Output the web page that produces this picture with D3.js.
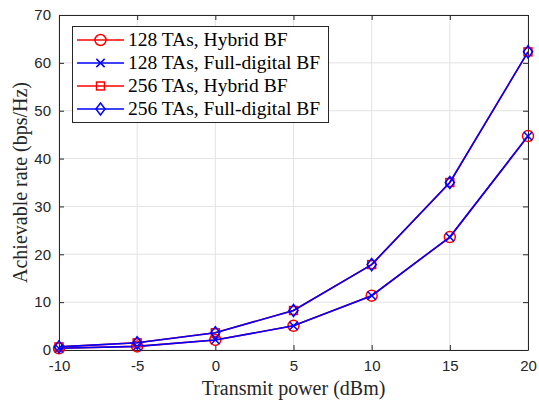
<!DOCTYPE html>
<html>
<head>
<meta charset="utf-8">
<script src="https://cdn.jsdelivr.net/npm/d3@7"></script>
<style>
  html, body { margin: 0; padding: 0; background: #fff; }
  svg { display: block; }
</style>
</head>
<body>
<svg id="chart" width="539" height="401"></svg>
<script>
// Transmit power (dBm)
const power = [-10, -5, 0, 5, 10, 15, 20];
// Achievable rate (bps/Hz)
const rate128Hybrid  = [0.35, 0.75, 2.1, 5.05, 11.35, 23.6, 44.7];
const rate128Digital = [0.35, 0.75, 2.1, 5.05, 11.35, 23.6, 44.7];
const rate256Hybrid  = [0.65, 1.5, 3.6, 8.25, 17.85, 35.0, 62.3];
const rate256Digital = [0.65, 1.5, 3.6, 8.25, 17.85, 35.0, 62.3];
const xTicks = [-10, -5, 0, 5, 10, 15, 20];
const yTicks = [0, 10, 20, 30, 40, 50, 60, 70];

const series = [
  { name: "128 TAs, Hybrid BF",       values: rate128Hybrid,  color: "#ff0000", marker: "circle" },
  { name: "128 TAs, Full-digital BF", values: rate128Digital, color: "#0000ff", marker: "x" },
  { name: "256 TAs, Hybrid BF",       values: rate256Hybrid,  color: "#ff0000", marker: "square" },
  { name: "256 TAs, Full-digital BF", values: rate256Digital, color: "#0000ff", marker: "diamond" }
];

const svg = d3.select("#chart");
const m = { left: 59, right: 528, top: 15, bottom: 350 };
const x = d3.scaleLinear().domain([-10, 20]).range([m.left, m.right]);
const y = d3.scaleLinear().domain([0, 70]).range([m.bottom, m.top]);

const axisColor = "#262626";
const gridColor = "#e3e3e3";
const serif = "'Liberation Serif', 'Times New Roman', serif";
const sans = "'Liberation Sans', Arial, sans-serif";
const plain = d => String(d);   // hyphen-minus for negatives

// grid
const grid = svg.append("g");
grid.selectAll(".gx").data(xTicks).join("line")
  .attr("x1", d => x(d)).attr("x2", d => x(d))
  .attr("y1", m.top).attr("y2", m.bottom)
  .attr("stroke", gridColor).attr("stroke-width", 1);
grid.selectAll(".gy").data(yTicks).join("line")
  .attr("x1", m.left).attr("x2", m.right)
  .attr("y1", d => y(d)).attr("y2", d => y(d))
  .attr("stroke", gridColor).attr("stroke-width", 1);

// axes (ticks point inward, box on)
function styleAxis(g) {
  g.select(".domain").attr("stroke", axisColor);
  g.selectAll(".tick line").attr("stroke", axisColor);
  g.selectAll(".tick text").attr("fill", "#262626")
    .style("font-family", sans).style("font-size", "15px");
}
const xAxis = svg.append("g").attr("transform", `translate(0,${m.bottom})`)
  .call(d3.axisBottom(x).tickValues(xTicks).tickFormat(plain).tickSize(-5).tickSizeOuter(0).tickPadding(10));
styleAxis(xAxis);
const xAxisTop = svg.append("g").attr("transform", `translate(0,${m.top})`)
  .call(d3.axisTop(x).tickValues(xTicks).tickSize(-5).tickSizeOuter(0).tickFormat(""));
styleAxis(xAxisTop);
const yAxis = svg.append("g").attr("transform", `translate(${m.left},0)`)
  .call(d3.axisLeft(y).tickValues(yTicks).tickFormat(plain).tickSize(-5).tickSizeOuter(0).tickPadding(8));
styleAxis(yAxis);
const yAxisR = svg.append("g").attr("transform", `translate(${m.right},0)`)
  .call(d3.axisRight(y).tickValues(yTicks).tickSize(-5).tickSizeOuter(0).tickFormat(""));
styleAxis(yAxisR);

// marker drawing
function drawMarker(g, type, cx, cy, color, s) {
  const common = sel => sel.attr("fill", "none").attr("stroke", color).attr("stroke-width", 1.5);
  if (type === "circle") {
    g.append("circle").attr("cx", cx).attr("cy", cy).attr("r", s).call(common);
  } else if (type === "square") {
    g.append("rect").attr("x", cx - s * 0.72).attr("y", cy - s * 0.72)
      .attr("width", s * 1.44).attr("height", s * 1.44).call(common);
  } else if (type === "diamond") {
    const r = s * 1.1;
    g.append("path").attr("d", `M${cx},${cy - r}L${cx + r * 0.75},${cy}L${cx},${cy + r}L${cx - r * 0.75},${cy}Z`).call(common);
  } else if (type === "x") {
    const r = s * 0.75;
    g.append("path").attr("d", `M${cx - r},${cy - r}L${cx + r},${cy + r}M${cx - r},${cy + r}L${cx + r},${cy - r}`).call(common);
  }
}

const line = d3.line().x((d, i) => x(power[i])).y(d => y(d));
const plot = svg.append("g");
series.forEach(s => {
  const g = plot.append("g");
  g.append("path").datum(s.values).attr("d", line)
    .attr("fill", "none").attr("stroke", s.color).attr("stroke-width", 1.6);
  s.values.forEach((v, i) => drawMarker(g, s.marker, x(power[i]), y(v), s.color, 5.5));
});

// legend
const lg = svg.append("g");
lg.append("rect").attr("x", 72.5).attr("y", 26.5).attr("width", 256).attr("height", 96)
  .attr("fill", "#fff").attr("stroke", axisColor).attr("stroke-width", 1);
series.forEach((s, i) => {
  const ly = 40 + i * 23;
  lg.append("line").attr("x1", 77).attr("x2", 124).attr("y1", ly).attr("y2", ly)
    .attr("stroke", s.color).attr("stroke-width", 1.6);
  drawMarker(lg, s.marker, 100.5, ly, s.color, 5.5);
  lg.append("text").attr("x", 128).attr("y", ly + 6).text(s.name)
    .attr("fill", "#000")
    .style("font-family", serif).style("font-size", "19.5px");
});

// axis titles
svg.append("text").attr("x", (m.left + m.right) / 2).attr("y", 395)
  .attr("text-anchor", "middle").attr("fill", "#262626")
  .style("font-family", serif).style("font-size", "20px")
  .text("Transmit power (dBm)");
svg.append("text").attr("transform", `translate(27,${(m.top + m.bottom) / 2}) rotate(-90)`)
  .attr("text-anchor", "middle").attr("fill", "#262626")
  .style("font-family", serif).style("font-size", "20px")
  .text("Achievable rate (bps/Hz)");
</script>
</body>
</html>
